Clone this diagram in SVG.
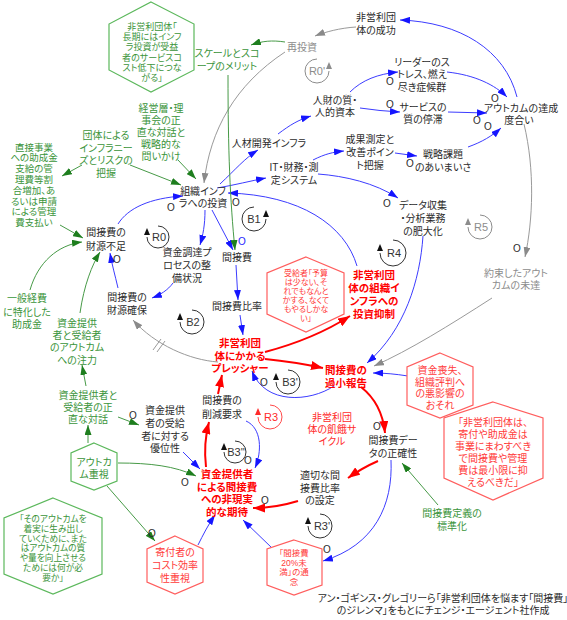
<svg xmlns="http://www.w3.org/2000/svg" width="567" height="620" viewBox="0 0 567 620">
<defs>
<style>
text{font-family:"Liberation Sans","Noto Sans CJK JP",sans-serif;font-size:10px;text-anchor:middle;font-feature-settings:"palt" 1;}
.t{fill:#2b2b2b}
.g{fill:#3a943a}
.gy{fill:#8c8c8c}
.r{fill:#ff0000;font-weight:bold;font-size:10.5px}
.rn{fill:#ff2a2a}
.hr{fill:#ff3a3a}
.hexr{fill:#fff;stroke:#ff5e5e;stroke-width:1.2}
.hexg{fill:#fff;stroke:#5cb85c;stroke-width:1.2}
.cb{fill:none;stroke:#3c3cff;stroke-width:1;marker-end:url(#ab)}
.cg{fill:none;stroke:#479a47;stroke-width:1;marker-end:url(#ag)}
.cr{fill:none;stroke:#ff0000;stroke-width:2;marker-end:url(#ar)}
.cy{fill:none;stroke:#9a9a9a;stroke-width:1;marker-end:url(#ay)}
.o{font-family:"Liberation Sans",sans-serif;font-size:10px;fill:#2b2b2b}
.lt{font-family:"Liberation Sans",sans-serif;font-size:11px}
</style>
<marker id="ab" markerUnits="userSpaceOnUse" markerWidth="10" markerHeight="7" refX="10" refY="3.5" orient="auto"><path d="M0,0L10,3.5L0,7z" fill="#1515ff"/></marker>
<marker id="ag" markerUnits="userSpaceOnUse" markerWidth="10" markerHeight="7" refX="10" refY="3.5" orient="auto"><path d="M0,0L10,3.5L0,7z" fill="#1e7e1e"/></marker>
<marker id="ar" markerUnits="userSpaceOnUse" markerWidth="12" markerHeight="9" refX="12" refY="4.5" orient="auto"><path d="M0,0L12,4.5L0,9z" fill="#ff0000"/></marker>
<marker id="ay" markerUnits="userSpaceOnUse" markerWidth="10" markerHeight="7" refX="10" refY="3.5" orient="auto"><path d="M0,0L10,3.5L0,7z" fill="#8a8a8a"/></marker>
</defs>
<rect width="567" height="620" fill="#fff"/>

<g id="connectors">
<path class="cb" d="M517,97 C505,50 460,22 400,20"/>
<path class="cb" d="M350,92 C362,80 378,74 398,72"/>
<path class="cb" d="M360,108 Q380,111 400,112"/>
<path class="cb" d="M447,72 C475,75 495,85 507,97"/>
<path class="cb" d="M448,112 L487,113"/>
<path class="cb" d="M468,147 C482,142 492,136 501,128"/>
<path class="cb" d="M395,153 L417,156"/>
<path class="cb" d="M278,134 C290,125 298,120 311,116"/>
<path class="cb" d="M220,184 C235,170 245,158 258,150"/>
<path class="cb" d="M313,160 C325,154 333,152 344,151"/>
<path class="cb" d="M217,188 C235,185 250,181 266,178"/>
<path class="cb" d="M318,174 C345,176 375,183 398,198"/>
<path class="cb" d="M357,266 C345,225 300,195 228,193"/>
<path class="cb" d="M205,210 C205,225 203,235 200,245"/>
<path class="cb" d="M212,210 L233,250"/>
<path class="cb" d="M236,265 L238,300"/>
<path class="cb" d="M118,224 C128,208 150,198 183,196"/>
<path class="cb" d="M173,283 C168,290 160,295 152,298"/>
<path class="cb" d="M118,288 C115,275 112,265 110,253"/>
<path class="cb" d="M240,315 L243,335"/>
<path class="cb" d="M423,236 C420,280 405,330 367,363"/>
<path class="cb" d="M408,376 C395,374 385,373 373,373"/>
<path class="cb" d="M334,386 C310,402 265,405 252,371"/>
<path class="cb" d="M391,460 C393,505 375,545 323,561"/>
<path class="cb" d="M183,452 L200,469"/>
<path class="cb" d="M246,421 C262,428 262,452 255,468"/>
<path class="cb" d="M272,548 L243,520"/>
<path class="cb" d="M198,545 C203,535 208,525 215,515"/>
<path class="cy" d="M356,27 C340,28 325,32 315,36"/>
<path class="cy" d="M285,52 C235,85 210,130 204,183"/>
<path class="cy" d="M524,124 C535,170 533,220 525,257"/>
<path class="cy" d="M492,298 C450,325 410,350 374,366"/>
<path class="cy" d="M218,362 C190,360 155,345 133,320"/>
<path d="M153,350 L161,339 M157,352 L165,341" stroke="#9a9a9a" stroke-width="1" fill="none"/>
<path class="cg" d="M285,42 C272,40 262,41 251,45"/>
<path class="cg" d="M228,75 C228,150 230,200 235,250"/>
<path class="cg" d="M178,160 L196,179"/>
<path class="cg" d="M82,165 L62,176"/>
<path class="cg" d="M130,165 L181,185"/>
<path class="cg" d="M60,225 L83,238"/>
<path class="cg" d="M30,290 C38,262 58,245 82,242"/>
<path class="cg" d="M80,313 C84,285 92,265 100,252"/>
<path class="cg" d="M86,386 L82,365"/>
<path class="cg" d="M118,417 L139,425"/>
<path class="cg" d="M88,443 L88,425"/>
<path class="cg" d="M118,463 C150,463 175,466 196,476"/>
<path class="cg" d="M107,486 L155,541"/>
<path class="cg" d="M438,505 L402,463"/>
<path class="cr" d="M265,352 C295,344 325,332 350,316"/>
<path class="cr" d="M265,359 Q295,362 323,368"/>
<path class="cr" d="M361,387 C375,398 383,413 385,433"/>
<path class="cr" d="M378,461 Q362,468 348,478"/>
<path class="cr" d="M298,501 C285,505 270,508 253,508"/>
<path class="cr" d="M206,467 C204,450 205,437 209,422"/>
<path class="cr" d="M218,394 L222,375"/>
<text class="o" x="390" y="84.5">O</text>
<text class="o" x="390" y="107.5">O</text>
<text class="o" x="495" y="101.5">O</text>
<text class="o" x="477" y="123.5">O</text>
<text class="o" x="488" y="129.5">O</text>
<text class="o" x="410" y="166.5">O</text>
<text class="o" x="387" y="206.5">O</text>
<text class="o" x="171" y="210.5">O</text>
<text class="o" x="117" y="262.5">O</text>
<text class="o" x="236" y="205.5">O</text>
<text class="o" x="242" y="244.5" style="fill:#2525ff">O</text>
<text class="o" x="517" y="251.5">O</text>
<text class="o" x="133" y="418.5">O</text>
<text class="o" x="264" y="386">O</text>
<text class="o" x="377" y="429.5">O</text>
<text class="o" x="185" y="485.5">O</text>
<text class="o" x="152" y="536.5">O</text>
<text class="o" x="248" y="463.5">O</text>
<text class="o" x="265" y="503.5">O</text>
<text class="o" x="327" y="552.5">O</text>
</g>

<g id="loops">
<g id="loop-R0p" stroke="#8c8c8c" fill="none"><path d="M317,59 A12,12 0 1 0 329,71"/><polygon points="329,62 326,69 332,69" fill="#8c8c8c" stroke="none"/><text class="lt" x="317" y="75" fill="#8c8c8c" stroke="none">R0'</text></g>
<g id="loop-R0" stroke="#333" fill="none"><path d="M158,226 A11,11 0 1 1 147,237"/><polygon points="147,228 144,235 150,235" fill="#111" stroke="none"/><text class="lt" x="159" y="241" fill="#333" stroke="none">R0</text></g>
<g id="loop-B1" stroke="#333" fill="none"><path d="M254,207 A12,12 0 1 0 266,219"/><polygon points="266,210 263,217 269,217" fill="#111" stroke="none"/><text class="lt" x="254" y="223" fill="#333" stroke="none">B1</text></g>
<g id="loop-B2" stroke="#333" fill="none"><path d="M192,310 A12,12 0 1 1 180,322"/><polygon points="180,313 177,320 183,320" fill="#111" stroke="none"/><text class="lt" x="193" y="326" fill="#333" stroke="none">B2</text></g>
<g id="loop-R4" stroke="#333" fill="none"><path d="M393,240 A13,13 0 1 1 380,253"/><polygon points="380,244 377,251 383,251" fill="#111" stroke="none"/><text class="lt" x="394" y="257" fill="#333" stroke="none">R4</text></g>
<g id="loop-R5" stroke="#8c8c8c" fill="none"><path d="M480,215 A12,12 0 1 1 468,227"/><polygon points="468,218 465,225 471,225" fill="#8c8c8c" stroke="none"/><text class="lt" x="481" y="231" fill="#8c8c8c" stroke="none">R5</text></g>
<g id="loop-B3p" stroke="#333" fill="none"><path d="M288,370 A12,12 0 1 1 276,382"/><polygon points="276,373 273,380 279,380" fill="#111" stroke="none"/><text class="lt" x="290" y="386" fill="#333" stroke="none">B3'</text></g>
<g id="loop-R3" stroke="#ff4a4a" fill="none"><path d="M270,405 A12,12 0 1 1 258,417"/><polygon points="258,408 255,415 261,415" fill="#ff2a2a" stroke="none"/><text class="lt" x="271" y="421" fill="#ff2a2a" stroke="none">R3</text></g>
<g id="loop-B3pp" stroke="#333" fill="none"><path d="M235,441 A11,11 0 1 1 224,452"/><polygon points="224,443 221,450 227,450" fill="#111" stroke="none"/><text class="lt" x="236" y="456" fill="#333" stroke="none">B3''</text></g>
<g id="loop-R3p" stroke="#333" fill="none"><path d="M320,514 A12,12 0 1 1 308,526"/><polygon points="308,517 305,524 311,524" fill="#111" stroke="none"/><text class="lt" x="322" y="530" fill="#333" stroke="none">R3'</text></g>
</g>

<g id="hex-longterm"><polygon class="hexg" points="151,2 194,24 194,70 151,92 109,70 109,24"/>
<text class="g" style="font-size:9px"><tspan x="152" y="30">非営利団体「</tspan><tspan x="152" y="40.2">長期にはインフ</tspan><tspan x="152" y="50.4">ラ投資が受益</tspan><tspan x="152" y="60.6">者のサービスコ</tspan><tspan x="152" y="70.8">スト低下につな</tspan><tspan x="152" y="81">がる」</tspan></text></g>
<g id="scale"><text class="g"><tspan x="227" y="57">スケールとスコ</tspan><tspan x="227" y="70">ープのメリット</tspan></text></g>
<g id="reinvest"><text class="gy" x="302" y="51">再投資</text></g>
<g id="success"><text class="t"><tspan x="376" y="21">非営利団</tspan><tspan x="376" y="34">体の成功</tspan></text></g>
<g id="human"><text class="t"><tspan x="335" y="104">人財の質・</tspan><tspan x="335" y="116">人的資本</tspan></text></g>
<g id="hrdev"><text class="t" x="269" y="147">人材開発インフラ</text></g>
<g id="measure"><text class="t"><tspan x="370" y="143">成果測定と</tspan><tspan x="370" y="156">改善ポイン</tspan><tspan x="370" y="169">ト把握</tspan></text></g>
<g id="leader"><text class="t"><tspan x="422" y="66">リーダーのス</tspan><tspan x="422" y="78">トレス、燃え</tspan><tspan x="422" y="91">尽き症候群</tspan></text></g>
<g id="service"><text class="t"><tspan x="423" y="111">サービスの</tspan><tspan x="423" y="123">質の停滞</tspan></text></g>
<g id="outcome-level"><text class="t"><tspan x="521" y="112">アウトカムの達成</tspan><tspan x="519" y="124">度合い</tspan></text></g>
<g id="strategy"><text class="t"><tspan x="443" y="158">戦略課題</tspan><tspan x="443" y="171">のあいまいさ</tspan></text></g>
<g id="it"><text class="t"><tspan x="294" y="171">IT・財務・測</tspan><tspan x="294" y="184">定システム</tspan></text></g>
<g id="invest"><text class="t"><tspan x="203" y="195">組織インフ</tspan><tspan x="203" y="207">ラへの投資</tspan></text></g>
<g id="data"><text class="t"><tspan x="423" y="209">データ収集</tspan><tspan x="423" y="222">・分析業務</tspan><tspan x="423" y="235">の肥大化</tspan></text></g>
<g id="unmet"><text class="gy"><tspan x="516" y="277">約束したアウト</tspan><tspan x="516" y="289">カムの未達</tspan></text></g>
<g id="infrarisk"><text class="g"><tspan x="106" y="139">団体による</tspan><tspan x="106" y="151.5">インフラニー</tspan><tspan x="106" y="164">ズとリスクの</tspan><tspan x="106" y="176.5">把握</tspan></text></g>
<g id="mgmt"><text class="g"><tspan x="161" y="112">経営層・理</tspan><tspan x="161" y="124">事会の正</tspan><tspan x="161" y="136">直な対話と</tspan><tspan x="161" y="148">戦略的な</tspan><tspan x="161" y="160">問いかけ</tspan></text></g>
<g id="direct"><text class="g" style="font-size:9.5px"><tspan x="34" y="150.5">直接事業</tspan><tspan x="34" y="161.3">への助成金</tspan><tspan x="34" y="172.1">支給の管</tspan><tspan x="34" y="182.9">理費等割</tspan><tspan x="34" y="193.7">合増加、あ</tspan><tspan x="34" y="204.5">るいは申請</tspan><tspan x="34" y="215.3">による管理</tspan><tspan x="34" y="226.1">費支払い</tspan></text></g>
<g id="shortage"><text class="t"><tspan x="106" y="236">間接費の</tspan><tspan x="106" y="250">財源不足</tspan></text></g>
<g id="fundproc"><text class="t"><tspan x="187" y="256">資金調達プ</tspan><tspan x="187" y="269">ロセスの整</tspan><tspan x="187" y="282">備状況</tspan></text></g>
<g id="secured"><text class="t"><tspan x="127" y="301">間接費の</tspan><tspan x="127" y="314">財源確保</tspan></text></g>
<g id="overhead"><text class="t" x="237" y="261">間接費</text></g>
<g id="hex-recipient"><polygon class="hexr" points="306,257 344,273 344,314 306,332 267,314 267,273"/>
<text class="hr" style="font-size:8px"><tspan x="306" y="276">受給者「予算</tspan><tspan x="306" y="285">は少ない、そ</tspan><tspan x="306" y="294">れでもなんと</tspan><tspan x="306" y="303">かする、なくて</tspan><tspan x="306" y="312">もやるしかな</tspan><tspan x="306" y="321">い」</tspan></text></g>
<g id="ratio"><text class="t" x="237" y="310">間接費比率</text></g>
<g id="suppress"><text class="r"><tspan x="374" y="279">非営利団</tspan><tspan x="374" y="292">体の組織イ</tspan><tspan x="374" y="305">ンフラへの</tspan><tspan x="374" y="318">投資抑制</tspan></text></g>
<g id="pressure"><text class="r"><tspan x="240" y="347">非営利団</tspan><tspan x="240" y="359.5">体にかかる</tspan><tspan x="240" y="372">プレッシャー</tspan></text></g>
<g id="underreport"><text class="r"><tspan x="346" y="374">間接費の</tspan><tspan x="346" y="386.5">過小報告</tspan></text></g>
<g id="hex-loss"><polygon class="hexr" points="440,353 473,367 473,405 440,418 407,405 407,367"/>
<text class="hr"><tspan x="440" y="374">資金喪失、</tspan><tspan x="440" y="385.5">組織評判へ</tspan><tspan x="440" y="397">の悪影響の</tspan><tspan x="440" y="409">おそれ</tspan></text></g>
<g id="hex-belief"><polygon class="hexr" points="493,402 543,418 543,478 493,500 444,478 444,418"/>
<text class="hr"><tspan x="493" y="426">「非営利団体は、</tspan><tspan x="493" y="438">寄付や助成金は</tspan><tspan x="493" y="450">事業にまわすべき</tspan><tspan x="493" y="462">で間接費や管理</tspan><tspan x="493" y="474">費は最小限に抑</tspan><tspan x="493" y="486">えるべきだ」</tspan></text></g>
<g id="starvation"><text class="rn"><tspan x="332" y="420.5">非営利団</tspan><tspan x="332" y="432.5">体の飢餓サ</tspan><tspan x="332" y="444.5">イクル</tspan></text></g>
<g id="cutreq"><text class="t"><tspan x="222" y="404">間接費の</tspan><tspan x="222" y="418">削減要求</tspan></text></g>
<g id="expect"><text class="r"><tspan x="227" y="478">資金提供者</tspan><tspan x="227" y="490.5">による間接費</tspan><tspan x="227" y="503">への非現実</tspan><tspan x="227" y="515.5">的な期待</tspan></text></g>
<g id="accuracy"><text class="t"><tspan x="393" y="444">間接費デー</tspan><tspan x="393" y="457">タの正確性</tspan></text></g>
<g id="setting"><text class="t"><tspan x="320" y="479">適切な間</tspan><tspan x="320" y="492">接費比率</tspan><tspan x="320" y="504">の設定</tspan></text></g>
<g id="hex-20"><polygon class="hexr" points="294,540 322,549 322,585 294,595 267,585 267,549"/>
<text class="hr" style="font-size:8.5px"><tspan x="294" y="556">「間接費</tspan><tspan x="294" y="565.7">20%未</tspan><tspan x="294" y="575.4">満」の通</tspan><tspan x="294" y="585.1">念</tspan></text></g>
<g id="hex-donor"><polygon class="hexr" points="175,536 203,549 203,582 175,594 147,582 147,549"/>
<text class="hr"><tspan x="175" y="556">寄付者の</tspan><tspan x="175" y="569">コスト効率</tspan><tspan x="175" y="582">性重視</tspan></text></g>
<g id="hex-question"><polygon class="hexg" points="53,498 102,518 102,574 53,594 4,574 4,518"/>
<text class="g" style="font-size:8.7px"><tspan x="53" y="522">「そのアウトカムを</tspan><tspan x="53" y="531.8">着実に生み出し</tspan><tspan x="53" y="541.6">ていくために、また</tspan><tspan x="53" y="551.4">はアウトカムの質</tspan><tspan x="53" y="561.2">や量を向上させる</tspan><tspan x="53" y="571">ためには何が必</tspan><tspan x="53" y="580.8">要か」</tspan></text></g>
<g id="hex-outcome"><polygon class="hexg" points="94,443 117,453 117,481 94,490 71,481 71,453"/>
<text class="g"><tspan x="94" y="466">アウトカ</tspan><tspan x="94" y="478">ム重視</tspan></text></g>
<g id="dialogue"><text class="g"><tspan x="88" y="399">資金提供者と</tspan><tspan x="88" y="411">受給者の正</tspan><tspan x="88" y="423">直な対話</tspan></text></g>
<g id="focus"><text class="g"><tspan x="77" y="327">資金提供</tspan><tspan x="77" y="339">者と受給者</tspan><tspan x="77" y="351">のアウトカム</tspan><tspan x="77" y="364">への注力</tspan></text></g>
<g id="general"><text class="g"><tspan x="27" y="302">一般経費</tspan><tspan x="27" y="315.5">に特化した</tspan><tspan x="27" y="328">助成金</tspan></text></g>
<g id="advantage"><text class="t"><tspan x="165" y="414">資金提供</tspan><tspan x="165" y="427">者の受給</tspan><tspan x="165" y="440">者に対する</tspan><tspan x="165" y="452">優位性</tspan></text></g>
<g id="standard"><text class="g"><tspan x="452" y="517">間接費定義の</tspan><tspan x="452" y="530">標準化</tspan></text></g>
<g id="citation"><text class="t"><tspan x="443" y="602">アン・ゴギンス・グレゴリーら「非営利団体を悩ます「間接費」</tspan><tspan x="443" y="614">のジレンマ」をもとにチェンジ・エージェント社作成</tspan></text></g>
</svg>
